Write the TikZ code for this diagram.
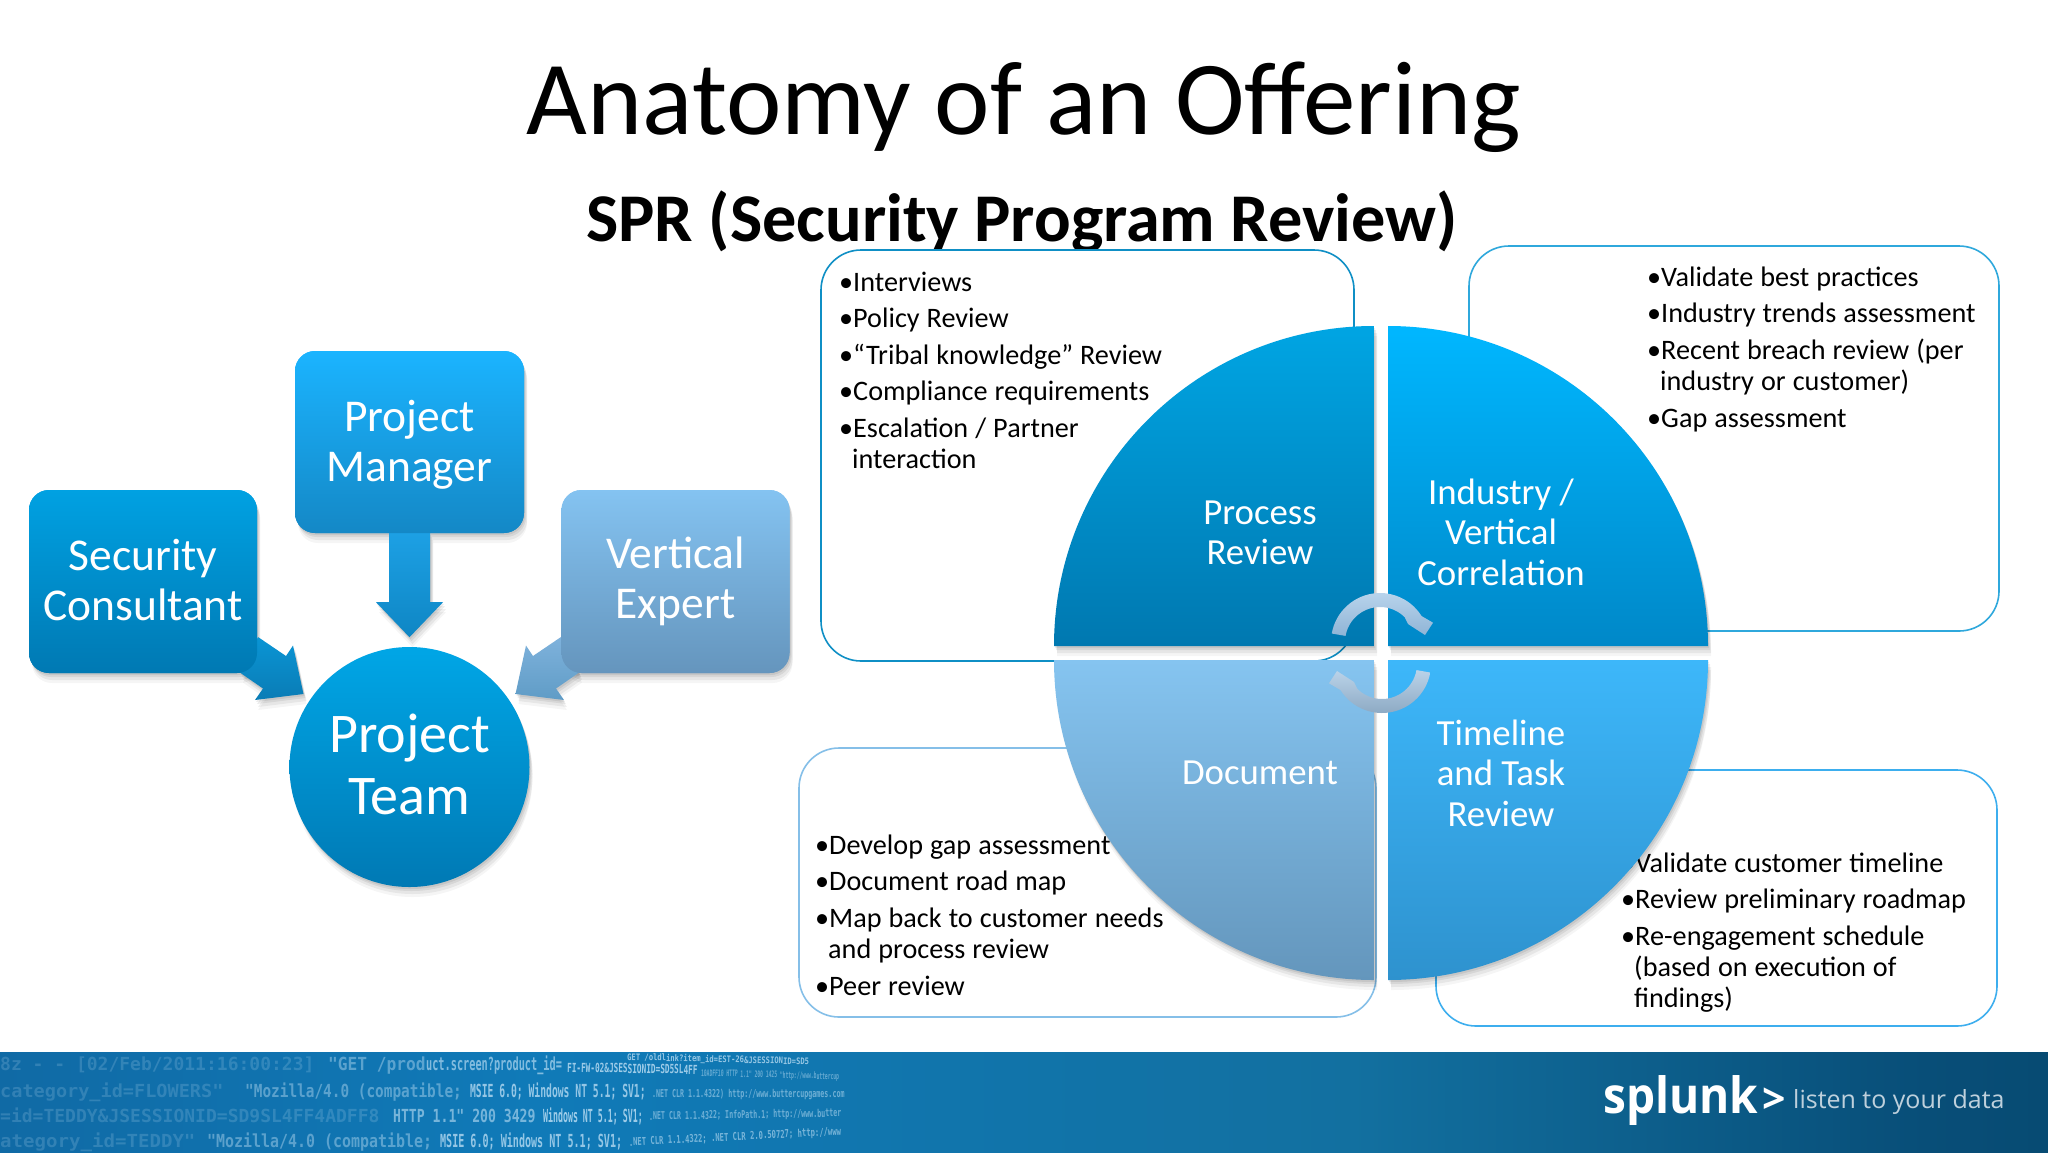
\documentclass[tikz,border=0pt]{standalone}
\usepackage{fontspec}
\setmainfont{Carlito}
\setmonofont{DejaVu Sans Mono}
\newfontfamily\logofont{Open Sans}
\usetikzlibrary{shadows}
\definecolor{bna}{RGB}{20,88,138}
\definecolor{bnb}{RGB}{16,106,165}
\definecolor{bnc}{RGB}{16,122,184}
\definecolor{bnd}{RGB}{18,112,160}
\definecolor{bne}{RGB}{8,78,120}
\definecolor{bnf}{RGB}{5,68,102}
\definecolor{bng}{RGB}{5,62,92}
\pgfdeclarehorizontalshading{bannershade}{100bp}{
  color(0bp)=(bna);
  color(25bp)=(bnb);
  color(38bp)=(bnc);
  color(58bp)=(bnd);
  color(72bp)=(bne);
  color(82bp)=(bnf);
  color(100bp)=(bng)}
\tikzset{
  softshadow/.style={
    general shadow={shadow xshift=1pt,shadow yshift=-2pt,fill=black,opacity=.07},
    general shadow={shadow xshift=2pt,shadow yshift=-4pt,fill=black,opacity=.07},
    general shadow={shadow xshift=3pt,shadow yshift=-7pt,fill=black,opacity=.06},
    general shadow={shadow xshift=3pt,shadow yshift=-10pt,fill=black,opacity=.04}},
  cardface/.style={rounded corners=20pt,minimum width=228pt,minimum height=183pt,inner sep=0pt},
  cardtext/.style={text=white,align=center,font=\fontsize{45.5}{50}\selectfont,inner sep=0pt},
  quadlabel/.style={text=white,align=center,font=\fontsize{36.8}{40.6}\selectfont,inner sep=0pt},
  callout/.style={fill=white,rounded corners=40pt,line width=1.6pt},
  listtext/.style={anchor=north west,inner sep=0pt,text width=#1,align=left,text=black,
    font=\fontsize{28.2}{31.3}\selectfont},
  logt/.style={anchor=base west,inner sep=0pt,text={rgb,255:red,205;green,232;blue,250},font=\fontsize{18}{20}\selectfont\ttfamily\bfseries}
}
\newcommand\bul{\par\vspace{5.2pt}\noindent\spaceskip=.25em\relax\makebox[14pt][l]{•}}
\newcommand\cont{\\\hspace*{13pt}}
\newcommand\logbit[8]{\node[logt,rotate=#4,xscale=#5,yscale=#6,text opacity=#7] (#1) at (#2,#3) {#8};}
\begin{document}
\begin{tikzpicture}[x=1pt,y=-1pt]
\useasboundingbox (0,0) rectangle (2048,1152);
\fill[white] (0,0) rectangle (2048,1152);

% titles
\node[anchor=base,inner sep=0pt,font=\fontsize{105}{110}\selectfont] (title) at (1024,134) {Anatomy of an Offering};
\node[anchor=base,inner sep=0pt,font=\fontsize{68.3}{75}\selectfont\bfseries] (subtitle) at (1022,241) {SPR (Security Program Review)};

% team
\node[circle,softshadow,minimum size=240pt,inner sep=0pt,draw=none,
  top color={rgb,255:red,0;green,166;blue,230},bottom color={rgb,255:red,0;green,121;blue,180}] (team) at (409.5,767) {};
\node[text=white,align=center,inner sep=0pt,font=\fontsize{56}{62.7}\selectfont] (teamtext) at ([yshift=2.5pt]team.center) {Project\\Team};
\node[cardface,softshadow,minimum height=182pt,minimum width=229pt,top color={rgb,255:red,27;green,180;blue,255},bottom color={rgb,255:red,20;green,136;blue,198}] (mgr) at (409.5,442) {};
\node[cardface,softshadow,top color={rgb,255:red,0;green,161;blue,226},bottom color={rgb,255:red,0;green,121;blue,179}] (sec) at (143,581.5) {};
\node[cardface,softshadow,top color={rgb,255:red,132;green,195;blue,241},bottom color={rgb,255:red,101;green,149;blue,189}] (ver) at (675.5,581.5) {};
\path[shift={(mgr.south)},softshadow,top color={rgb,255:red,29;green,160;blue,228},bottom color={rgb,255:red,14;green,134;blue,196}]
  (-20.5,0) -- (20.5,0) -- (20.5,69) -- (33.5,69) -- (0,104) -- (-33.5,69) -- (-20.5,69) -- cycle;
\path[shift={(team.center)},softshadow,top color={rgb,255:red,10;green,149;blue,213},bottom color={rgb,255:red,10;green,124;blue,181}]
  (-151.5,-130) -- (-123.5,-111) -- (-116.5,-121.5) -- (-106,-73) -- (-154.5,-67) -- (-146.5,-78.5) -- (-169.5,-94.4) -- cycle;
\path[shift={(team.center)},softshadow,top color={rgb,255:red,127;green,178;blue,220},bottom color={rgb,255:red,95;green,156;blue,198}]
  (151.5,-130) -- (123.5,-111) -- (116.5,-121.5) -- (106,-73) -- (154.5,-67) -- (146.5,-78.5) -- (169.5,-94.4) -- cycle;
% card faces above the arrows
\node[cardface,minimum height=182pt,minimum width=229pt,top color={rgb,255:red,27;green,180;blue,255},bottom color={rgb,255:red,20;green,136;blue,198}] (mgrtop) at (mgr) {};
\node[cardface,top color={rgb,255:red,0;green,161;blue,226},bottom color={rgb,255:red,0;green,121;blue,179}] (sectop) at (sec) {};
\node[cardface,top color={rgb,255:red,132;green,195;blue,241},bottom color={rgb,255:red,101;green,149;blue,189}] (vertop) at (ver) {};
\node[cardtext] (mgrtext) at ([yshift=-3pt]mgr.center) {Project\\Manager};
\node[cardtext] (sectext) at ([yshift=1pt]sec.center) {Security\\Consultant};
\node[cardtext] (vertext) at (ver.center) {Vertical\\Expert};

% callouts
\draw[callout,draw={rgb,255:red,15;green,143;blue,197}] (821,250) rectangle (1354,661);
\draw[callout,draw={rgb,255:red,47;green,168;blue,220}] (1469,246) rectangle (1999,631);
\draw[callout,draw={rgb,255:red,133;green,191;blue,232}] (799,748) rectangle (1376,1017);
\draw[callout,draw={rgb,255:red,61;green,174;blue,238}] (1436,770) rectangle (1997,1026);

\node[listtext=500pt] (list1) at (839,254.5) {\bul Interviews\bul Policy Review\bul “Tribal knowledge” Review\bul Compliance requirements\bul Escalation / Partner\cont interaction};
\node[listtext=340pt] (list2) at (1647,249.5) {\bul Validate best practices\bul Industry trends assessment\bul Recent breach review (per\cont industry or customer)\bul Gap assessment};
\node[listtext=400pt] (list3) at (815,817.5) {\bul Develop gap assessment\bul Document road map\bul Map back to customer needs\cont and process review\bul Peer review};
\node[listtext=370pt] (list4) at (1621,835.5) {\bul Validate customer timeline\bul Review preliminary roadmap\bul Re-engagement schedule\cont (based on execution of\cont findings)};

% pie quadrants
\path[softshadow,top color={rgb,255:red,0;green,165;blue,227},bottom color={rgb,255:red,0;green,120;blue,176}]
  (1374,646) -- (1054,646) .. controls (1054,469.3) and (1197.3,326) .. (1374,326) -- cycle;
\path[softshadow,top color={rgb,255:red,0;green,183;blue,255},bottom color={rgb,255:red,0;green,136;blue,200}]
  (1388,646) -- (1388,326) .. controls (1564.7,326) and (1708,469.3) .. (1708,646) -- cycle;
\path[softshadow,top color={rgb,255:red,133;green,196;blue,240},bottom color={rgb,255:red,100;green,150;blue,188}]
  (1374,660) -- (1374,980) .. controls (1197.3,980) and (1054,836.7) .. (1054,660) -- cycle;
\path[softshadow,top color={rgb,255:red,61;green,183;blue,250},bottom color={rgb,255:red,46;green,146;blue,206}]
  (1388,660) -- (1708,660) .. controls (1708,836.7) and (1564.7,980) .. (1388,980) -- cycle;

\node[quadlabel] (q1) at (1260,533) {Process\\Review};
\node[quadlabel] (q2) at (1501,532) {Industry /\\Vertical\\Correlation};
\node[quadlabel] (q3) at (1260,773) {Document};
\node[quadlabel] (q4) at (1501,773) {Timeline\\and Task\\Review};

% cycle arrows
\path[top color={rgb,255:red,184;green,211;blue,235},bottom color={rgb,255:red,143;green,180;blue,214}]
  plot[domain=170:32,samples=30] ({1380+49*cos(\x)},{642-49*sin(\x)})
  -- (1433,622.7) -- (1425,635) -- (1408,624)
  -- plot[domain=45:170,samples=30] ({1380+35*cos(\x)},{642-35*sin(\x)}) -- cycle;
\path[top color={rgb,255:red,186;green,211;blue,233},bottom color={rgb,255:red,142;green,170;blue,196}]
  plot[domain=170:32,samples=30] ({1382-49*cos(\x)},{664+49*sin(\x)})
  -- (1329,683.3) -- (1337,671) -- (1354,682)
  -- plot[domain=45:170,samples=30] ({1382-35*cos(\x)},{664+35*sin(\x)}) -- cycle;

% banner
\fill[shading=bannershade] (0,1052) rectangle (2048,1152);
\begin{scope}
\clip (0,1052) rectangle (2048,1152);
\logbit{l0}{627}{1060}{-1.5}{.4}{.5}{.7}{GET /oldlink?item\_id=EST-26\&JSESSIONID=SD5}
\logbit{a1}{0}{1070}{0}{1}{1}{.18}{8z - - [02/Feb/2011:16:00:23] }
\logbit{b1}{328}{1070}{0}{.9}{1}{.4}{"GET /prod}
\logbit{b2}{426}{1070}{0}{.57}{1}{.6}{uct.screen?product\_id=}
\logbit{c1}{567}{1072}{-1}{.43}{.7}{.75}{FI-FW-02\&JSESSIONID=SD5SL4FF}
\logbit{d1}{701}{1076}{-1.5}{.26}{.5}{.45}{10ADFF10 HTTP 1.1" 200 1425 "http://www.buttercup}
\logbit{a2}{0}{1097}{0}{1.03}{1}{.18}{category\_id=FLOWERS" }
\logbit{b3}{245}{1097}{0}{.8}{1}{.4}{"Mozilla/4.0 (compatible; }
\logbit{c2}{470}{1097}{0}{.54}{1}{.7}{MSIE 6.0; Windows NT 5.1; SV1; }
\logbit{d2}{652}{1097}{0}{.37}{.6}{.5}{.NET CLR 1.1.4322) http://www.buttercupgames.com}
\logbit{a3}{0}{1122}{0}{1}{1}{.18}{=id=TEDDY\&JSESSIONID=SD9SL4FF4ADFF8 }
\logbit{b4}{393}{1122}{0}{.73}{1}{.55}{HTTP 1.1" 200 3429 }
\logbit{c3}{543}{1122}{0}{.46}{1}{.75}{Windows NT 5.1; SV1; }
\logbit{d3}{649}{1120}{1}{.37}{.6}{.5}{.NET CLR 1.1.4322; InfoPath.1; http://www.butter}
\logbit{a4}{0}{1147}{0}{1.06}{1}{.18}{ategory\_id=TEDDY" }
\logbit{b5}{207}{1147}{0}{.83}{1}{.4}{"Mozilla/4.0 (compatible; }
\logbit{c4}{440}{1147}{0}{.56}{1}{.7}{MSIE 6.0; Windows NT 5.1; SV1; }
\logbit{d4}{629}{1146}{3}{.4}{.6}{.55}{.NET CLR 1.1.4322; .NET CLR 2.0.50727; http://www}
\end{scope}

% logo
\node[anchor=base west,inner sep=0pt,text=white,xscale=.92,font=\logofont\bfseries\fontsize{50}{60}\selectfont] (splunk) at (1603,1113) {splunk};
\node[anchor=base west,inner sep=0pt,text=white,font=\logofont\bfseries\fontsize{41}{60}\selectfont] (gt) at (1762,1113) {>};
\node[anchor=base west,inner sep=0pt,text={rgb,255:red,190;green,208;blue,220},font=\logofont\fontsize{25}{28}\selectfont] (tag) at (1793,1108) {listen to your data};
\end{tikzpicture}
\end{document}
